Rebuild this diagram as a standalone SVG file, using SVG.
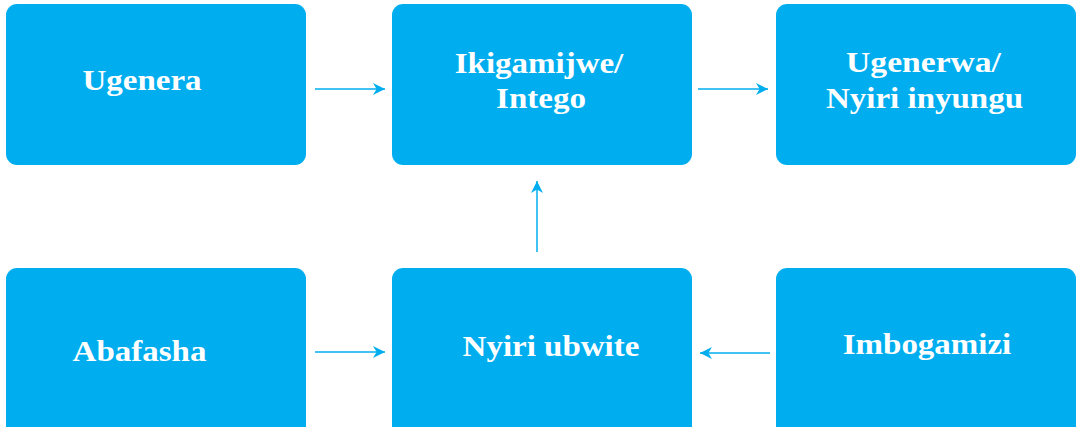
<svg xmlns="http://www.w3.org/2000/svg" width="1076" height="427" viewBox="0 0 1076 427">
<style>
.box{fill:#00AEEF}
.t{font-family:"Liberation Serif","Times New Roman",serif;font-weight:bold;font-size:30px;fill:#FFFFFF;text-anchor:middle}
.c{stroke:#00AEEF;stroke-width:1.5;fill:none}
</style>
<defs>
<marker id="ah" viewBox="0 0 10 10" refX="10" refY="5" markerWidth="18" markerHeight="12" markerUnits="userSpaceOnUse" orient="auto">
<path d="M0,0 L10,5 L0,10 L3,5 Z" fill="#00AEEF"/>
</marker>
</defs>
<rect width="1076" height="427" fill="#FFFFFF"/>
<g id="n1"><rect class="box" x="6" y="4" width="300" height="161" rx="11"/><text class="t" transform="translate(142,90) scale(1.1,1)">Ugenera</text></g>
<g id="n2"><rect class="box" x="392" y="4" width="300" height="161" rx="11"/><text class="t" transform="translate(539,73) scale(1.1,1)">Ikigamijwe/</text><text class="t" transform="translate(541,108) scale(1.1,1)">Intego</text></g>
<g id="n3"><rect class="box" x="776" y="4" width="300" height="161" rx="11"/><text class="t" transform="translate(923.5,72) scale(1.12,1)">Ugenerwa/</text><text class="t" transform="translate(924.5,108) scale(1.1,1)">Nyiri inyungu</text></g>
<g id="n4"><rect class="box" x="6" y="268" width="300" height="170" rx="11"/><text class="t" transform="translate(139.5,361) scale(1.1,1)">Abafasha</text></g>
<g id="n5"><rect class="box" x="392" y="268" width="300" height="170" rx="11"/><text class="t" transform="translate(551,356) scale(1.1,1)">Nyiri ubwite</text></g>
<g id="n6"><rect class="box" x="776" y="268" width="300" height="170" rx="11"/><text class="t" transform="translate(927,354) scale(1.1,1)">Imbogamizi</text></g>
<g id="connectors">
<line class="c" x1="315" y1="89" x2="385" y2="89" marker-end="url(#ah)"/>
<line class="c" x1="698" y1="89" x2="768" y2="89" marker-end="url(#ah)"/>
<line class="c" x1="537" y1="252" x2="537" y2="181" marker-end="url(#ah)"/>
<line class="c" x1="315" y1="352" x2="385" y2="352" marker-end="url(#ah)"/>
<line class="c" x1="770" y1="353" x2="700" y2="353" marker-end="url(#ah)"/>
</g>
</svg>
